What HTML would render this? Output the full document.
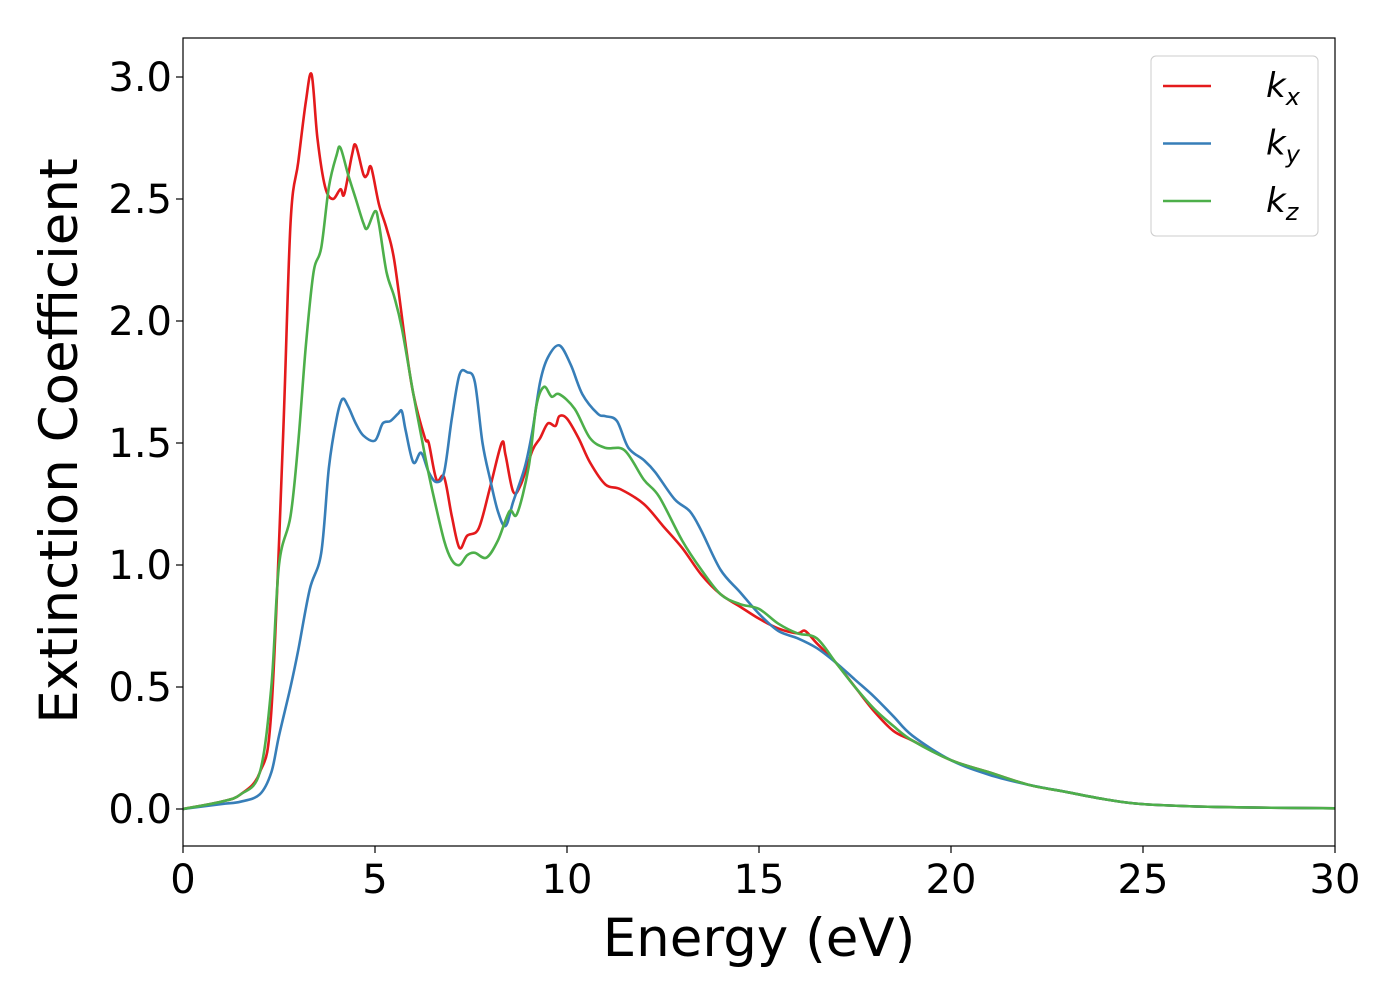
<!DOCTYPE html>
<html><head><meta charset="utf-8"><style>
body{margin:0;background:#fff;}
svg text{font-family:"DejaVu Sans","Liberation Sans",sans-serif;fill:#000;}
</style></head><body>
<svg width="1400" height="1000">
<g id="plot"></g>
</svg>
<script>
const energyX = [0,1,1.5,2,2.3,2.6,2.8,3.0,3.2,3.35,3.5,3.7,3.9,4.1,4.2,4.4,4.5,4.7,4.8,4.9,5.1,5.3,5.5,5.8,6.0,6.3,6.4,6.6,6.8,7.0,7.2,7.4,7.7,8.0,8.3,8.4,8.6,8.8,9.1,9.3,9.5,9.7,9.8,10,10.3,10.6,11,11.4,12,12.5,13,13.5,14,14.5,15,15.5,16,16.2,16.5,17,17.5,18,18.5,19,20,21,22,23,24,25,27,30];
const kxVals = [0,0.03,0.06,0.15,0.4,1.5,2.4,2.65,2.9,3.01,2.75,2.55,2.5,2.54,2.52,2.68,2.72,2.6,2.6,2.63,2.48,2.38,2.25,1.9,1.7,1.52,1.5,1.35,1.36,1.2,1.07,1.12,1.15,1.32,1.5,1.45,1.3,1.33,1.47,1.52,1.58,1.57,1.61,1.6,1.52,1.42,1.33,1.31,1.25,1.16,1.07,0.96,0.88,0.83,0.78,0.74,0.72,0.73,0.68,0.6,0.5,0.4,0.32,0.28,0.2,0.15,0.1,0.07,0.04,0.02,0.008,0.003];
const energyY = [0,1,1.5,2,2.3,2.5,2.8,3.0,3.3,3.6,3.8,4.0,4.15,4.3,4.5,4.7,5.0,5.2,5.4,5.6,5.7,5.8,6.0,6.2,6.4,6.6,6.8,7.0,7.2,7.4,7.6,7.8,8.0,8.2,8.4,8.6,8.9,9.1,9.3,9.5,9.8,10.1,10.4,10.8,11,11.3,11.6,12,12.3,12.8,13.2,13.5,14,14.5,15,15.5,16,16.5,17,17.5,18,18.5,19,20,21,22,23,24,25,27,30];
const kyVals = [0,0.02,0.03,0.06,0.15,0.3,0.5,0.65,0.9,1.05,1.4,1.6,1.68,1.65,1.58,1.53,1.51,1.58,1.59,1.62,1.63,1.55,1.42,1.46,1.38,1.34,1.38,1.6,1.78,1.79,1.75,1.5,1.35,1.22,1.16,1.26,1.4,1.55,1.75,1.85,1.9,1.82,1.7,1.62,1.61,1.59,1.48,1.43,1.38,1.27,1.22,1.14,0.98,0.89,0.8,0.73,0.7,0.66,0.6,0.53,0.46,0.38,0.3,0.2,0.14,0.1,0.07,0.04,0.02,0.008,0.003];
const energyZ = [0,1,1.5,2,2.3,2.5,2.8,3.0,3.2,3.4,3.6,3.8,4.0,4.1,4.3,4.5,4.7,4.8,5.0,5.1,5.3,5.5,5.7,6.0,6.3,6.5,6.8,7.0,7.2,7.4,7.6,7.9,8.2,8.5,8.7,9.0,9.2,9.4,9.6,9.8,10.2,10.6,11,11.5,12,12.4,13,13.5,14,14.5,15,15.5,16,16.5,17,17.5,18,18.5,19,20,21,22,23,24,25,27,30];
const kzVals = [0,0.03,0.06,0.15,0.5,1.0,1.2,1.5,1.9,2.2,2.3,2.55,2.68,2.71,2.6,2.5,2.4,2.38,2.45,2.4,2.2,2.1,1.97,1.7,1.45,1.3,1.1,1.02,1.0,1.04,1.05,1.03,1.1,1.22,1.21,1.4,1.65,1.73,1.69,1.7,1.64,1.52,1.48,1.47,1.35,1.28,1.1,0.98,0.88,0.84,0.82,0.76,0.72,0.7,0.6,0.5,0.41,0.34,0.28,0.2,0.15,0.1,0.07,0.04,0.02,0.008,0.003];
const xTicks = [0,5,10,15,20,25,30];
const yTicks = [0.0,0.5,1.0,1.5,2.0,2.5,3.0];
const seriesNames = ["x","y","z"];

const NS="http://www.w3.org/2000/svg";
const L=183,R=1335,T=38,B=846;
const xs=v=>L+(v-0)/30*(R-L);
const ys=v=>809-v*244;
const g=document.getElementById('plot');
function mk(tag,attrs){const e=document.createElementNS(NS,tag);for(const k in attrs)e.setAttribute(k,attrs[k]);return e;}
function smoothPath(X,Y){
  const p=X.map((x,i)=>[xs(x),ys(Y[i])]);
  let d=`M${p[0][0]},${p[0][1]}`;
  for(let i=0;i<p.length-1;i++){
    const p0=p[i-1]||p[i],p1=p[i],p2=p[i+1],p3=p[i+2]||p2;
    const c1=[p1[0]+(p2[0]-p0[0])/6,p1[1]+(p2[1]-p0[1])/6];
    const c2=[p2[0]-(p3[0]-p1[0])/6,p2[1]-(p3[1]-p1[1])/6];
    d+=`C${c1[0]},${c1[1]} ${c2[0]},${c2[1]} ${p2[0]},${p2[1]}`;
  }
  return d;
}
const series=[[energyX,kxVals,'#e41a1c','series-kx'],[energyY,kyVals,'#377eb8','series-ky'],[energyZ,kzVals,'#4daf4a','series-kz']];
series.forEach(s=>{
  const p=mk('path',{d:smoothPath(s[0],s[1]),fill:'none',stroke:s[2],'stroke-width':2.6,'stroke-linejoin':'round'});
  
  
  g.appendChild(p);
});
const frame=mk('rect',{x:L,y:T,width:R-L,height:B-T,fill:'none',stroke:'#000','stroke-width':1.2});


g.appendChild(frame);
xTicks.forEach(t=>{
  const x=xs(t);
  const l=mk('line',{x1:x,x2:x,y1:B,y2:B+7,stroke:'#000','stroke-width':1.2});
  
  
  g.appendChild(l);
  const tx=mk('text',{x:x,y:893,'font-size':40,'text-anchor':'middle'});
  
  
  tx.textContent=t;g.appendChild(tx);
});
yTicks.forEach(t=>{
  const y=ys(t);
  const l=mk('line',{x1:L-7,x2:L,y1:y,y2:y,stroke:'#000','stroke-width':1.2});
  
  
  g.appendChild(l);
  const tx=mk('text',{x:172,y:y+14,'font-size':40,'text-anchor':'end'});
  
  
  tx.textContent=t.toFixed(1);g.appendChild(tx);
});
const xt=mk('text',{x:759,y:956,'font-size':53,'text-anchor':'middle'});


xt.textContent='Energy (eV)';g.appendChild(xt);
const yt=mk('text',{x:0,y:0,'font-size':53,'text-anchor':'middle',transform:'translate(77,441) rotate(-90)'});


yt.textContent='Extinction Coefficient';g.appendChild(yt);
const lg=mk('rect',{x:1151,y:56,width:167,height:180,rx:5,fill:'#fff','fill-opacity':0.8,stroke:'#ccc','stroke-width':1});


g.appendChild(lg);
series.forEach((s,i)=>{
  const y=86+i*57.5;
  const l=mk('line',{x1:1163,x2:1211,y1:y,y2:y,stroke:s[2],'stroke-width':2.6});
  
  
  g.appendChild(l);
  const tx=mk('text',{x:1266,y:y+11,'font-size':34,'font-style':'italic'});
  
  
  tx.textContent='k';
  const sub=mk('tspan',{'font-size':24,dy:8});
  sub.textContent=seriesNames[i];tx.appendChild(sub);
  g.appendChild(tx);
});
</script>
</body></html>
